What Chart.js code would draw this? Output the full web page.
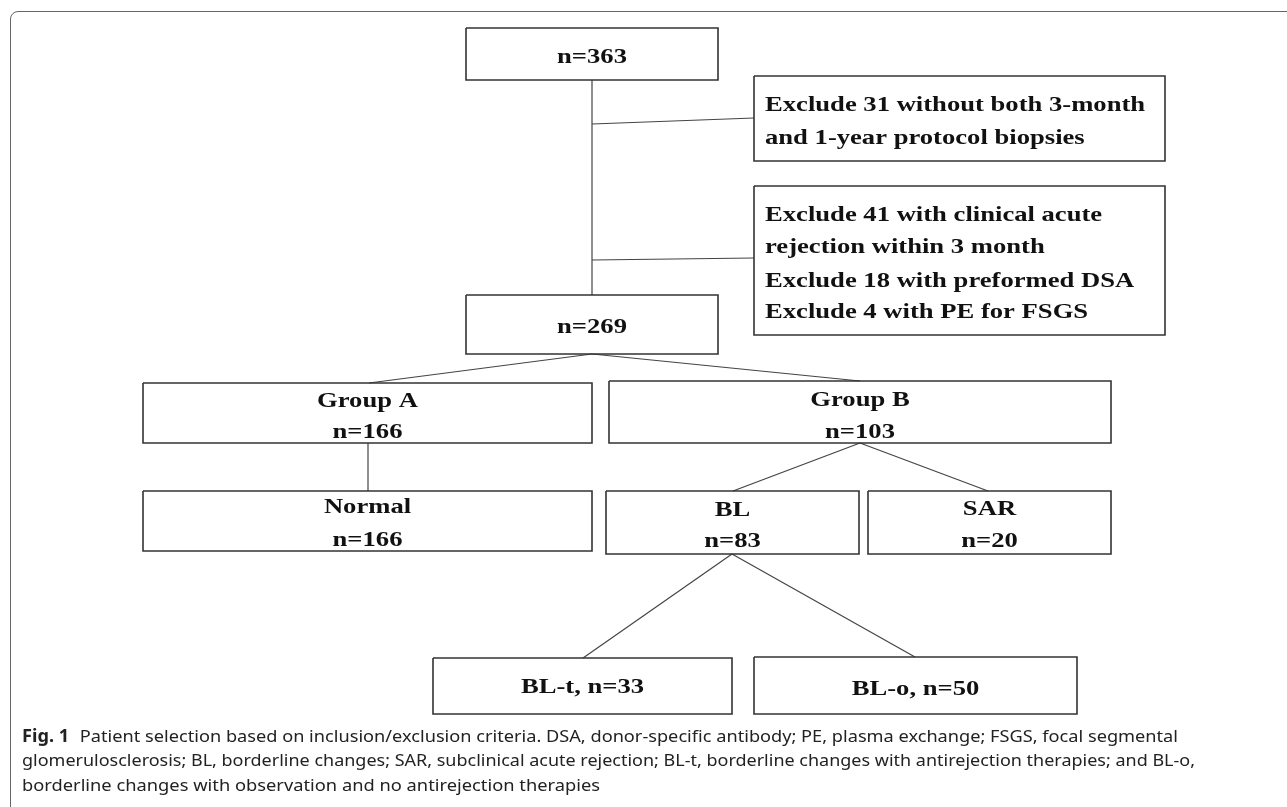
<!DOCTYPE html>
<html>
<head>
<meta charset="utf-8">
<script src="https://cdn.jsdelivr.net/npm/chart.js@4.4.1/dist/chart.umd.min.js"></script>
<style>
  html, body { margin: 0; padding: 0; background: #fff; overflow: hidden; }
  #wrap { position: relative; width: 1287px; height: 807px; }
  #frame { position: absolute; left: 10px; top: 11px; width: 1300px; height: 820px;
           border: 1.5px solid #666; border-radius: 8px; box-sizing: border-box; }
  canvas { position: absolute; left: 0; top: 0; }
</style>
</head>
<body>
<div id="wrap">
  <div id="frame"></div>
  <canvas id="flow" width="1287" height="807"></canvas>
</div>
<script>
// flow chart nodes (text + box edges, in picture units)
const nodeText = [
  ["n=363"], ["n=269"], ["Group A", "n=166"], ["Group B", "n=103"],
  ["Normal", "n=166"], ["BL", "n=83"], ["SAR", "n=20"],
  ["BL-t, n=33"], ["BL-o, n=50"]
];
const nodeLeft = [466, 466, 143, 609, 143, 606, 868, 433, 754];
const nodeRight = [718, 718, 592, 1111, 592, 859, 1111, 732, 1077];
const nodeTop = [28, 295, 383, 381, 491, 491, 491, 658, 657];
const nodeBottom = [80, 354, 443, 443, 551, 554, 554, 714, 714];
const nodeBaselines = [[63], [333], [407, 438], [406, 438], [513, 546], [516, 547], [515, 547], [693], [695]];

// exclusion boxes
const exclText = [
  ["Exclude 31 without both 3-month", "and 1-year protocol biopsies"],
  ["Exclude 41 with clinical acute", "rejection within 3 month",
   "Exclude 18 with preformed DSA", "Exclude 4 with PE for FSGS"]
];
const exclLeft = [754, 754];
const exclRight = [1165, 1165];
const exclTop = [76, 186];
const exclBottom = [161, 335];
const exclBaselines = [[111, 144], [221, 253, 287, 318]];

// connector lines, start -> end
const linkFrom = [[592, 80], [592, 124], [592, 260], [592, 354], [592, 354],
                  [368, 443], [860, 443], [860, 443], [732, 554], [732, 554]];
const linkTo = [[592, 295], [754, 118], [754, 258], [369, 383], [860, 381],
                [368, 491], [733, 491], [988, 491], [583, 658], [915, 657]];

const captionBold = "Fig. 1";
const captionLines = [
  "Patient selection based on inclusion/exclusion criteria. DSA, donor-specific antibody; PE, plasma exchange; FSGS, focal segmental",
  "glomerulosclerosis; BL, borderline changes; SAR, subclinical acute rejection; BL-t, borderline changes with antirejection therapies; and BL-o,",
  "borderline changes with observation and no antirejection therapies"
];
const captionBaselines = [742, 766, 791];
const captionEnds = [1178, 1195, 600];

function boxPath(l, r, t, b) {
  return [{ x: l, y: t }, { x: r, y: t }, { x: r, y: b }, { x: l, y: b }, { x: l, y: t }];
}

let datasets = [];
for (let i = 0; i < nodeText.length; i++) {
  datasets.push({
    data: boxPath(nodeLeft[i], nodeRight[i], nodeTop[i], nodeBottom[i]),
    borderColor: "#333", borderWidth: 1.6
  });
}
for (let i = 0; i < exclText.length; i++) {
  datasets.push({
    data: boxPath(exclLeft[i], exclRight[i], exclTop[i], exclBottom[i]),
    borderColor: "#333", borderWidth: 1.6
  });
}
for (let i = 0; i < linkFrom.length; i++) {
  datasets.push({
    data: [{ x: linkFrom[i][0], y: linkFrom[i][1] }, { x: linkTo[i][0], y: linkTo[i][1] }],
    borderColor: "#444", borderWidth: 1.2
  });
}
datasets.forEach(function (d) {
  d.showLine = true;
  d.pointRadius = 0;
  d.fill = false;
  d.tension = 0;
  d.borderJoinStyle = "miter";
});

const SERIF = "bold 22px 'Liberation Serif', 'Times New Roman', serif";
const STRETCH = 1.21;

const textPlugin = {
  id: "flowText",
  afterDatasetsDraw: function (chart) {
    let ctx = chart.ctx;
    let xs = chart.scales.x;
    let ys = chart.scales.y;
    ctx.save();
    ctx.fillStyle = "#111";
    ctx.font = SERIF;
    ctx.textBaseline = "alphabetic";

    // node labels, centred in the box
    ctx.textAlign = "center";
    for (let i = 0; i < nodeText.length; i++) {
      let cx = xs.getPixelForValue((nodeLeft[i] + nodeRight[i]) / 2);
      for (let j = 0; j < nodeText[i].length; j++) {
        ctx.save();
        ctx.translate(cx, ys.getPixelForValue(nodeBaselines[i][j]));
        ctx.scale(STRETCH, 1);
        ctx.fillText(nodeText[i][j], 0, 0);
        ctx.restore();
      }
    }

    // exclusion labels, left aligned
    ctx.textAlign = "left";
    for (let i = 0; i < exclText.length; i++) {
      let lx = xs.getPixelForValue(exclLeft[i] + 11);
      for (let j = 0; j < exclText[i].length; j++) {
        ctx.save();
        ctx.translate(lx, ys.getPixelForValue(exclBaselines[i][j]));
        ctx.scale(STRETCH, 1);
        ctx.fillText(exclText[i][j], 0, 0);
        ctx.restore();
      }
    }

    // caption, each line fitted to its width in the figure
    ctx.fillStyle = "#222";
    let capFont = "17px 'Noto Sans', 'Open Sans', sans-serif";
    let capBold = "bold 17px 'Noto Sans', 'Open Sans', sans-serif";
    ctx.font = capBold;
    let boldW = ctx.measureText(captionBold).width;
    let gap = 10;
    let x0 = xs.getPixelForValue(22);
    for (let j = 0; j < captionLines.length; j++) {
      ctx.font = capFont;
      let w = ctx.measureText(captionLines[j]).width + (j === 0 ? boldW + gap : 0);
      let sx = (xs.getPixelForValue(captionEnds[j]) - x0) / w;
      ctx.save();
      ctx.translate(x0, ys.getPixelForValue(captionBaselines[j]));
      ctx.scale(sx, 1);
      let x = 0;
      if (j === 0) {
        ctx.font = capBold;
        ctx.fillText(captionBold, 0, 0);
        x = boldW + gap;
      }
      ctx.font = capFont;
      ctx.fillText(captionLines[j], x, 0);
      ctx.restore();
    }
    ctx.restore();
  }
};

new Chart(document.getElementById("flow"), {
  type: "scatter",
  data: { datasets: datasets },
  options: {
    responsive: false,
    animation: false,
    layout: { padding: 0 },
    plugins: { legend: { display: false }, tooltip: { enabled: false } },
    scales: {
      x: { type: "linear", min: 0, max: 1287, display: false },
      y: { type: "linear", min: 0, max: 807, reverse: true, display: false }
    }
  },
  plugins: [textPlugin]
});
</script>
</body>
</html>
